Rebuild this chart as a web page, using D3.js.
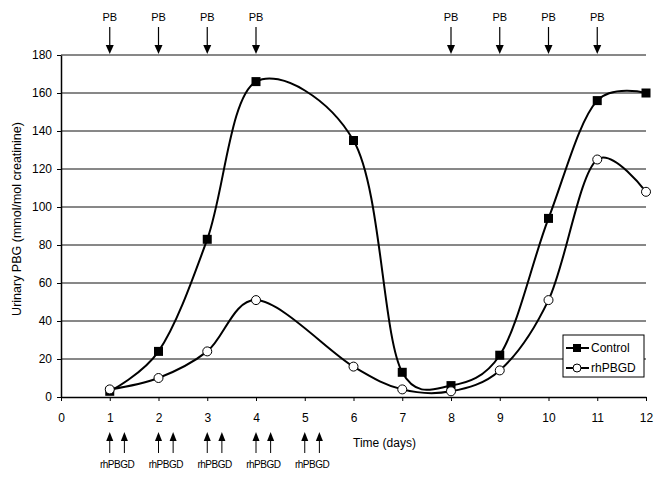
<!DOCTYPE html>
<html>
<head>
<meta charset="utf-8">
<script src="https://cdn.jsdelivr.net/npm/d3@7/dist/d3.min.js"></script>
<style>
  body { margin: 0; background: #fff; }
  svg { font-family: "Liberation Sans", Arial, sans-serif; }
</style>
</head>
<body>
<svg id="chart" width="668" height="480"></svg>
<script>
const controlDays = [1, 2, 3, 4, 6, 7, 8, 9, 10, 11, 12];
const controlValues = [3, 24, 83, 166, 135, 13, 6, 22, 94, 156, 160];
const rhDays = [1, 2, 3, 4, 6, 7, 8, 9, 10, 11, 12];
const rhValues = [4, 10, 24, 51, 16, 4, 3, 14, 51, 125, 108];
const pbDays = [1, 2, 3, 4, 8, 9, 10, 11];
const rhDoseDays = [1, 2, 3, 4, 5];
const xTicks = d3.range(0, 13);
const yTicks = d3.range(0, 181, 20);

const svg = d3.select("#chart");
const x = d3.scaleLinear().domain([0, 12]).range([61, 646]);
const y = d3.scaleLinear().domain([0, 180]).range([397, 55]);

// gridlines
svg.append("g")
  .selectAll("line")
  .data(yTicks.filter((t) => t > 0))
  .join("line")
  .attr("x1", x(0))
  .attr("x2", x(12))
  .attr("y1", (d) => y(d))
  .attr("y2", (d) => y(d))
  .attr("stroke", "#111")
  .attr("stroke-width", 1);

// y axis
const yAxis = svg.append("g")
  .attr("transform", `translate(${x(0)},0)`)
  .call(d3.axisLeft(y).tickValues(yTicks).tickSize(4).tickSizeOuter(0));
yAxis.select(".domain").attr("stroke", "#000").attr("stroke-width", 1.5);
yAxis.selectAll("text").attr("font-size", 12).attr("fill", "#000")
  .attr("font-family", "Liberation Sans, Arial, sans-serif").attr("dx", -2);

// x axis
const xAxis = svg.append("g")
  .attr("transform", `translate(0,${y(0)})`)
  .call(d3.axisBottom(x).tickValues(xTicks).tickSize(4).tickSizeOuter(0).tickPadding(12));
xAxis.select(".domain").attr("stroke", "#000").attr("stroke-width", 1.5);
xAxis.selectAll("text").attr("font-size", 12).attr("fill", "#000")
  .attr("font-family", "Liberation Sans, Arial, sans-serif");

// axis titles
svg.append("text")
  .attr("x", 353)
  .attr("y", 447)
  .attr("font-size", 12)
  .text("Time (days)");

svg.append("text")
  .attr("transform", "translate(21,219) rotate(-90)")
  .attr("text-anchor", "middle")
  .attr("font-size", 12.5)
  .text("Urinary PBG (mmol/mol creatinine)");

const line = d3.line()
  .x((d) => x(d[0]))
  .y((d) => y(d[1]))
  .curve(d3.curveCatmullRom.alpha(0.2));

const controlPts = controlDays.map((d, i) => [d, controlValues[i]]);
const rhPts = rhDays.map((d, i) => [d, rhValues[i]]);

svg.append("path")
  .attr("d", line(rhPts))
  .attr("fill", "none")
  .attr("stroke", "#000")
  .attr("stroke-width", 2);

svg.append("path")
  .attr("d", line(controlPts))
  .attr("fill", "none")
  .attr("stroke", "#000")
  .attr("stroke-width", 2);

svg.append("g")
  .selectAll("rect")
  .data(controlPts)
  .join("rect")
  .attr("x", (d) => x(d[0]) - 4.5)
  .attr("y", (d) => y(d[1]) - 4.5)
  .attr("width", 9)
  .attr("height", 9)
  .attr("fill", "#000");

svg.append("g")
  .selectAll("circle")
  .data(rhPts)
  .join("circle")
  .attr("cx", (d) => x(d[0]))
  .attr("cy", (d) => y(d[1]))
  .attr("r", 4.5)
  .attr("fill", "#fff")
  .attr("stroke", "#000")
  .attr("stroke-width", 1);

// PB arrows
const pb = svg.append("g").selectAll("g").data(pbDays).join("g")
  .attr("transform", (d) => `translate(${x(d)},0)`);
pb.append("text")
  .attr("y", 21)
  .attr("text-anchor", "middle")
  .attr("font-size", 11)
  .text("PB");
pb.append("line")
  .attr("y1", 27).attr("y2", 46)
  .attr("stroke", "#000").attr("stroke-width", 1.2);
pb.append("path")
  .attr("d", "M-4,45 L4,45 L0,54 Z")
  .attr("fill", "#000");

// rhPBGD arrows
const rh = svg.append("g").selectAll("g").data(rhDoseDays).join("g")
  .attr("transform", (d) => `translate(${x(d)},0)`);
[0, 0.3].forEach((off) => {
  const dx = off * (x(1) - x(0));
  rh.append("path")
    .attr("d", `M${dx - 3.5},441 L${dx + 3.5},441 L${dx},432 Z`)
    .attr("fill", "#000");
  rh.append("line")
    .attr("x1", dx).attr("x2", dx)
    .attr("y1", 440).attr("y2", 453)
    .attr("stroke", "#000").attr("stroke-width", 1);
});
rh.append("text")
  .attr("x", 0.15 * (x(1) - x(0)))
  .attr("y", 468)
  .attr("text-anchor", "middle")
  .attr("font-size", 10)
  .attr("letter-spacing", -0.5)
  .text("rhPBGD");

// legend
const lg = svg.append("g");
lg.append("rect")
  .attr("x", 563).attr("y", 335)
  .attr("width", 81).attr("height", 42)
  .attr("fill", "#fff").attr("stroke", "#000").attr("stroke-width", 1);
lg.append("line").attr("x1", 566).attr("x2", 589).attr("y1", 348).attr("y2", 348)
  .attr("stroke", "#000").attr("stroke-width", 2);
lg.append("rect").attr("x", 573).attr("y", 344).attr("width", 8).attr("height", 8).attr("fill", "#000");
lg.append("line").attr("x1", 566).attr("x2", 589).attr("y1", 368).attr("y2", 368)
  .attr("stroke", "#000").attr("stroke-width", 2);
lg.append("circle").attr("cx", 577).attr("cy", 368).attr("r", 4)
  .attr("fill", "#fff").attr("stroke", "#000");
lg.append("text").attr("x", 591).attr("y", 352).attr("font-size", 12).text("Control");
lg.append("text").attr("x", 591).attr("y", 372).attr("font-size", 12).text("rhPBGD");
</script>
</body>
</html>
